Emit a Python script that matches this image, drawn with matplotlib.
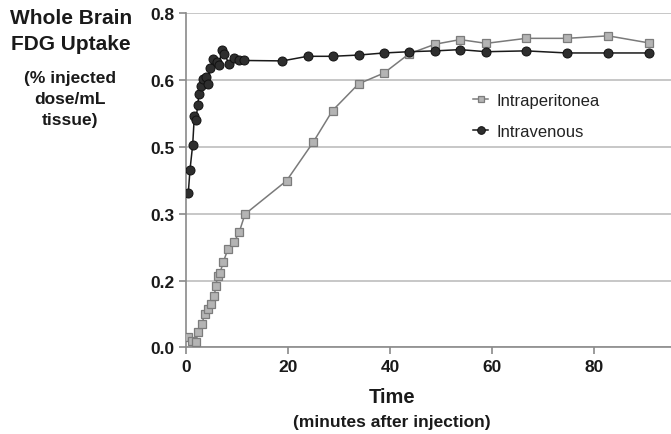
import matplotlib
matplotlib.use('Agg')
import matplotlib.pyplot as plt
import numpy as np

plt.rcParams['font.family'] = ['Liberation Sans', 'DejaVu Sans']

# Intravenous (black circles)
iv_time = [0.45, 0.78, 1.31, 1.63, 1.96, 2.29, 2.55, 2.94, 3.39, 3.86, 4.37, 4.70,
           5.35, 6.01, 6.47, 7.0, 7.5, 8.42, 9.46, 10.4, 11.4,
           18.9, 23.8, 28.7, 33.8, 38.8, 43.7, 48.8, 53.7, 58.8, 66.6, 74.6, 82.7, 90.7]
iv_uptake = [0.370, 0.425, 0.485, 0.553, 0.545, 0.580, 0.607, 0.627, 0.643, 0.647, 0.631, 0.668,
             0.691, 0.684, 0.676, 0.712, 0.703, 0.679, 0.692, 0.687, 0.687,
             0.686, 0.697, 0.697, 0.700, 0.705, 0.708, 0.710, 0.713, 0.708, 0.710, 0.705, 0.705, 0.705]

# Intraperitoneal (grey squares)
ip_time = [0.45, 1.24, 1.9, 2.4, 3.07, 3.72, 4.24, 4.9, 5.55, 5.8, 6.2, 6.66, 7.3, 8.2,
           9.46, 10.4, 11.56, 19.7, 24.9, 28.7, 33.8, 38.8, 43.7, 48.8, 53.7, 58.8,
           66.6, 74.6, 82.7, 90.7]
ip_uptake = [0.024, 0.016, 0.013, 0.036, 0.056, 0.080, 0.092, 0.104, 0.122, 0.146, 0.170, 0.178,
             0.204, 0.235, 0.253, 0.275, 0.319, 0.399, 0.491, 0.567, 0.631, 0.657, 0.703, 0.726,
             0.737, 0.728, 0.740, 0.740, 0.746, 0.729]

y_ticks = np.arange(0, 0.81, 0.16)
x_ticks = [0, 20, 40, 60, 80]

fig = plt.figure(figsize=(6.71, 4.35), dpi=100)
ax = fig.add_axes([186 / 671, 1 - 348.3 / 435, 485 / 671, 334 / 435])

ax.plot(ip_time, ip_uptake, color='#7a7a7a', lw=1.1, marker='s', markersize=5.5,
        markerfacecolor='#b4b4b4', markeredgecolor='#7c7c7c', markeredgewidth=0.9,
        label='Intraperitonea', zorder=3)
ax.plot(iv_time, iv_uptake, color='#1a1a1a', lw=1.1, marker='o', markersize=6.5,
        markerfacecolor='#2e2e2e', markeredgecolor='#111111', markeredgewidth=0.7,
        label='Intravenous', zorder=4)

ax.set_xlim(0, 95.0)
ax.set_ylim(0, 0.8)
ax.set_yticks(y_ticks)
ax.set_yticklabels(['%.1f' % v for v in y_ticks])
ax.set_xticks(x_ticks)
ax.yaxis.grid(True, color='#bdbdbd', lw=1.2)
ax.set_axisbelow(True)
for side in ['top', 'right']:
    ax.spines[side].set_visible(False)
for side in ['left', 'bottom']:
    ax.spines[side].set_color('#8a8a8a')
    ax.spines[side].set_linewidth(1.2)
ax.tick_params(axis='both', colors='#8a8a8a', length=5, width=1.2, labelcolor='#1a1a1a',
               labelsize=12.5)
for lab in ax.get_xticklabels() + ax.get_yticklabels():
    lab.set_fontweight('bold')

leg = ax.legend(loc='upper left', bbox_to_anchor=((465 - 186) / 485, (348.3 - 86) / 334),
                frameon=False, fontsize=12, handlelength=0.9, handletextpad=0.5,
                labelspacing=0.95, borderpad=0, markerscale=0.85)
for t in leg.get_texts():
    t.set_color('#222222')

W, H = 671, 435
fig.text(71 / W, 1 - 18 / H, 'Whole Brain', ha='center', va='center', fontsize=15,
         fontweight='bold', color='#1a1a1a')
fig.text(71 / W, 1 - 44 / H, 'FDG Uptake', ha='center', va='center', fontsize=15,
         fontweight='bold', color='#1a1a1a')
fig.text(70 / W, 1 - 79 / H, '(% injected', ha='center', va='center', fontsize=12.5,
         fontweight='bold', color='#1a1a1a')
fig.text(70 / W, 1 - 100 / H, 'dose/mL', ha='center', va='center', fontsize=12.5,
         fontweight='bold', color='#1a1a1a')
fig.text(70 / W, 1 - 121 / H, 'tissue)', ha='center', va='center', fontsize=12.5,
         fontweight='bold', color='#1a1a1a')
fig.text(392 / W, 1 - 398 / H, 'Time', ha='center', va='center', fontsize=14.5,
         fontweight='bold', color='#1a1a1a')
fig.text(392 / W, 1 - 423 / H, '(minutes after injection)', ha='center', va='center',
         fontsize=12.5, fontweight='bold', color='#1a1a1a')

fig.savefig('out.png', dpi=100, facecolor='white')
